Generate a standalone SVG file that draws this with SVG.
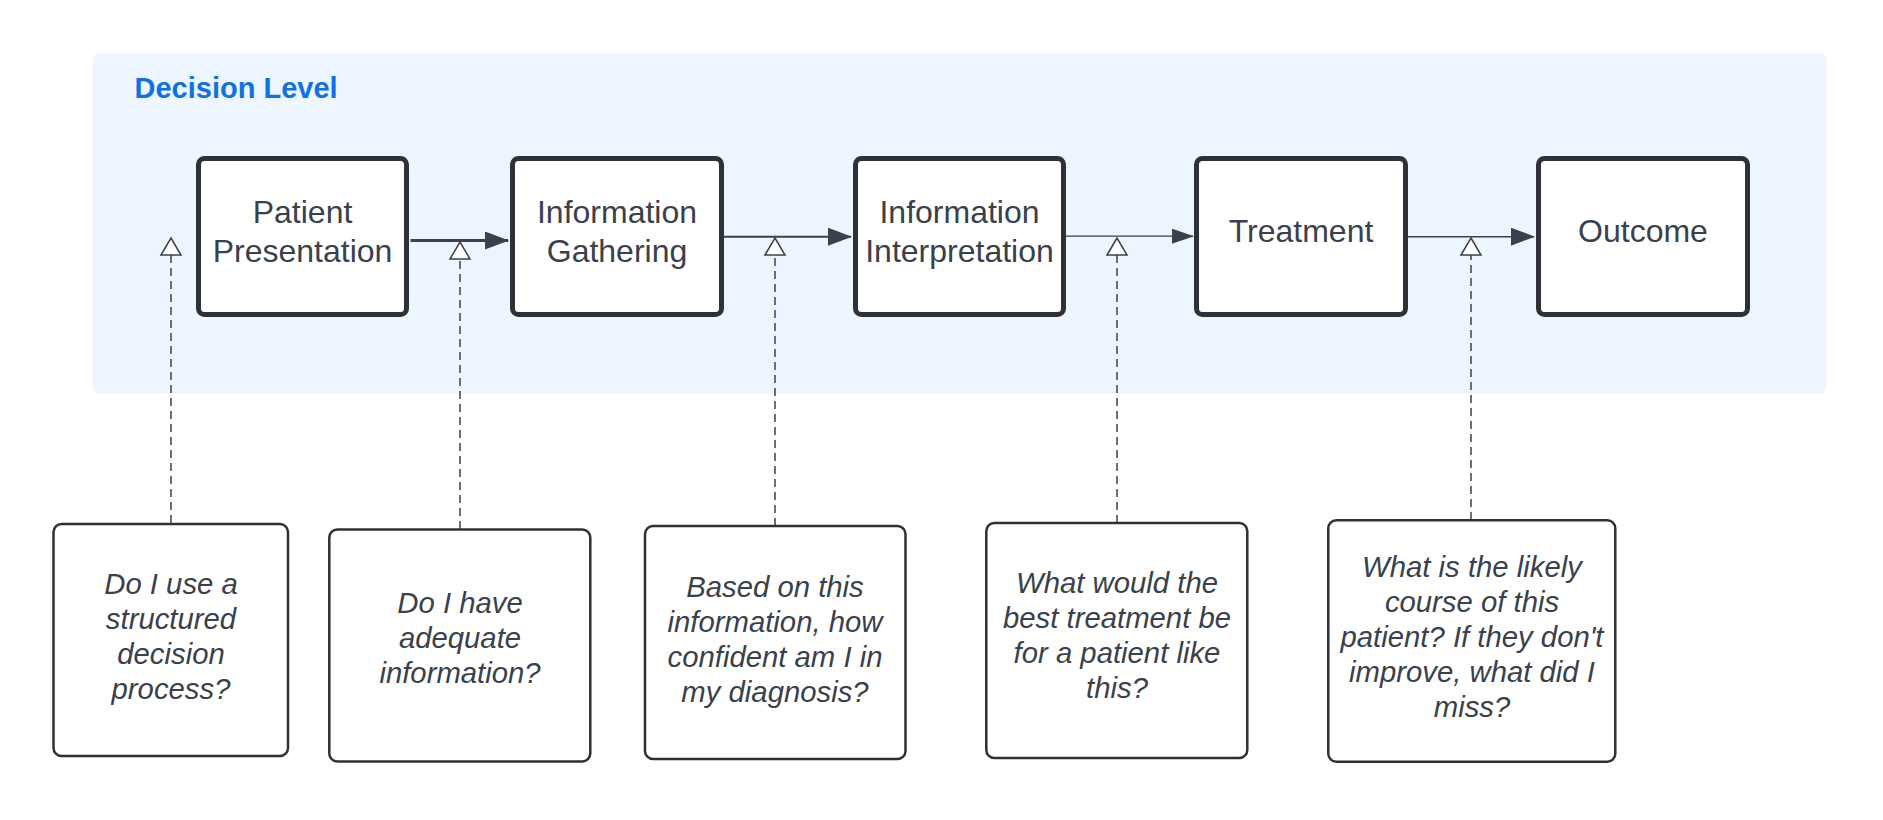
<svg xmlns="http://www.w3.org/2000/svg" width="1883" height="820" viewBox="0 0 1883 820">
<style>
.panel{fill:#EDF5FF;}
.title{font-family:"Liberation Sans",Arial,sans-serif;font-size:29px;font-weight:bold;fill:#1071E5;}
.node rect{fill:#FFFFFF;stroke:#2E3238;stroke-width:5;}
.node text{font-family:"Liberation Sans",Arial,sans-serif;font-size:32px;fill:#3A414A;text-anchor:middle;}
.q rect{fill:#FFFFFF;stroke:#2E3238;stroke-width:2.5;}
.q text{font-family:"Liberation Sans",Arial,sans-serif;font-size:29.3px;font-style:italic;fill:#3A414A;text-anchor:middle;}
.flow{fill:none;stroke:#3A414A;}
.dash{fill:none;stroke:#3A414A;stroke-width:1.5;stroke-dasharray:8 5;}
</style>
<defs>
<marker id="ah" markerUnits="userSpaceOnUse" markerWidth="24" markerHeight="18" viewBox="0 0 24 18" refX="23" refY="9" orient="auto">
<path d="M0,0 L24,9 L0,18 z" fill="#3A414A"/>
</marker>
<marker id="ahs" markerUnits="userSpaceOnUse" markerWidth="22" markerHeight="15" viewBox="0 0 22 15" refX="21" refY="7.5" orient="auto">
<path d="M0,0 L22,7.5 L0,15 z" fill="#3A414A"/>
</marker>
<marker id="tri" markerUnits="userSpaceOnUse" markerWidth="20" markerHeight="24" viewBox="0 -2 20 24" refX="0" refY="10" orient="auto" overflow="visible">
<path d="M0,0 L17,10 L0,20 z" fill="#FFFFFF" stroke="#3A414A" stroke-width="1.5" stroke-linejoin="miter"/>
</marker>
</defs>
<g id="panel">
<rect class="panel" x="92.5" y="52.8" width="1734" height="341" rx="7"/>
<text class="title" x="134.5" y="97.5">Decision Level</text>
</g>
<g id="connectors">
<path class="flow" d="M410.5,240.5 H508" stroke-width="2.8" marker-end="url(#ah)"/>
<path class="flow" d="M724,236.7 H851" stroke-width="2" marker-end="url(#ah)"/>
<path class="flow" d="M1066,236.2 H1193" stroke-width="1.2" marker-end="url(#ahs)"/>
<path class="flow" d="M1408,236.7 H1534" stroke-width="1.6" marker-end="url(#ah)"/>
<path class="dash" d="M171,523 V255" marker-end="url(#tri)"/>
<path class="dash" d="M460,529 V259" marker-end="url(#tri)"/>
<path class="dash" d="M775,526 V255" marker-end="url(#tri)"/>
<path class="dash" d="M1117,523 V255" marker-end="url(#tri)"/>
<path class="dash" d="M1471,520 V255" marker-end="url(#tri)"/>
</g>
<g id="node-patient-presentation" class="node">
<rect x="198.5" y="158.5" width="208" height="156" rx="6"/>
<text x="302.5" y="223">Patient</text>
<text x="302.5" y="261.5">Presentation</text>
</g>
<g id="node-information-gathering" class="node">
<rect x="512.5" y="158.5" width="209" height="156" rx="6"/>
<text x="617" y="223">Information</text>
<text x="617" y="261.5">Gathering</text>
</g>
<g id="node-information-interpretation" class="node">
<rect x="855.5" y="158.5" width="208" height="156" rx="6"/>
<text x="959.5" y="223">Information</text>
<text x="959.5" y="261.5">Interpretation</text>
</g>
<g id="node-treatment" class="node">
<rect x="1196.5" y="158.5" width="209" height="156" rx="6"/>
<text x="1301" y="241.7">Treatment</text>
</g>
<g id="node-outcome" class="node">
<rect x="1538.5" y="158.5" width="209" height="156" rx="6"/>
<text x="1643" y="241.7">Outcome</text>
</g>
<g id="q-structured" class="q">
<rect x="53.5" y="524" width="234.5" height="232" rx="8"/>
<text x="171" y="594.3">Do I use a</text>
<text x="171" y="629.3">structured</text>
<text x="171" y="664.3">decision</text>
<text x="171" y="699.3">process?</text>
</g>
<g id="q-adequate" class="q">
<rect x="329.3" y="529.5" width="261" height="232" rx="8"/>
<text x="460" y="613.3">Do I have</text>
<text x="460" y="648.3">adequate</text>
<text x="460" y="683.3">information?</text>
</g>
<g id="q-confident" class="q">
<rect x="645" y="526" width="260.5" height="233" rx="8"/>
<text x="775" y="596.7">Based on this</text>
<text x="775" y="631.7">information, how</text>
<text x="775" y="666.7">confident am I in</text>
<text x="775" y="701.7">my diagnosis?</text>
</g>
<g id="q-treatment" class="q">
<rect x="986.3" y="523" width="261" height="235" rx="8"/>
<text x="1117" y="593.3">What would the</text>
<text x="1117" y="628.3">best treatment be</text>
<text x="1117" y="663.3">for a patient like</text>
<text x="1117" y="698.3">this?</text>
</g>
<g id="q-course" class="q">
<rect x="1328.3" y="520.3" width="287" height="241.5" rx="8"/>
<text x="1472" y="577.3">What is the likely</text>
<text x="1472" y="612.3">course of this</text>
<text x="1472" y="647.3">patient? If they don't</text>
<text x="1472" y="682.3">improve, what did I</text>
<text x="1472" y="717.3">miss?</text>
</g>
</svg>
